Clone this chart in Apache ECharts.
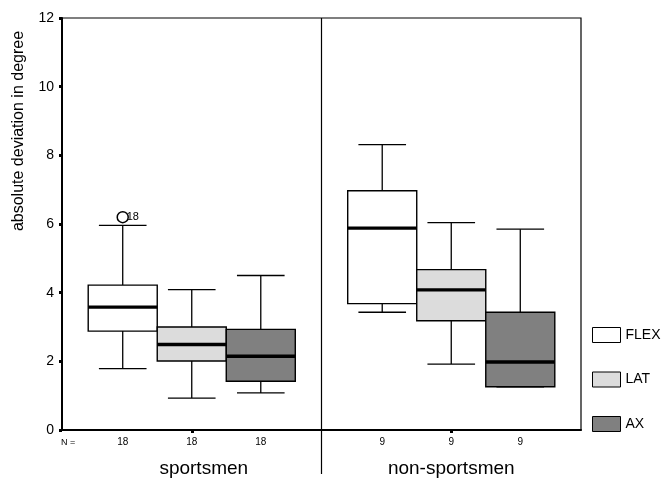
<!DOCTYPE html>
<html>
<head>
<meta charset="utf-8">
<script src="https://cdn.jsdelivr.net/npm/echarts@6/dist/echarts.min.js"></script>
<style>
html,body{margin:0;padding:0;background:#fff;}
#chart{width:665px;height:478px;}
</style>
</head>
<body>
<div id="chart"></div>
<script>
// ---- data ----
const categories = ['sportsmen', 'non-sportsmen'];
const measures = ['FLEX', 'LAT', 'AX'];
const measureColors = ['#ffffff', '#dcdcdc', '#808080'];
// each row: [lower whisker, Q1, median, Q3, upper whisker], one row per category
const flexStats = [[1.79, 2.88, 3.58, 4.22, 5.96], [3.43, 3.68, 5.88, 6.97, 8.31]];
const latStats  = [[0.93, 2.01, 2.49, 3.00, 4.09], [1.92, 3.18, 4.08, 4.67, 6.04]];
const axStats   = [[1.08, 1.42, 2.15, 2.93, 4.50], [1.26, 1.26, 1.98, 3.43, 5.85]];
const nCounts = [[18, 18, 18], [9, 9, 9]];
// outliers: [category index, measure index, value, case label]
const outliers = [[0, 0, 6.20, '18']];
const separators = [0]; // divider after category index 0
const yMin = 0, yMax = 12, yInterval = 2;
const yName = 'absolute deviation in degree';

const statsList = [flexStats, latStats, axStats];
const BOX_FRAC = 0.266;   // box width as fraction of band
const CAP_FRAC = 0.69;    // whisker cap width as fraction of box width
const FONT = '"Liberation Sans", Arial, sans-serif';

function boxCenter(api, cat, m) {
  const band = api.size([1, 0])[0];
  const bw = band * BOX_FRAC;
  return { cx: api.coord([cat, 0])[0] + (m - 1) * bw, bw: bw };
}

function renderBox(params, api) {
  const m = params.seriesIndex;
  const cat = api.value(0);
  const g = boxCenter(api, cat, m);
  const cx = g.cx, bw = g.bw, cw = bw * CAP_FRAC;
  const y = [1, 2, 3, 4, 5].map(i => api.coord([cat, api.value(i)])[1]);
  const line = (x1, y1, x2, y2, w) => ({
    type: 'line', shape: { x1, y1, x2, y2 },
    style: { stroke: '#000', lineWidth: w }
  });
  return {
    type: 'group',
    children: [
      line(cx, y[4], cx, y[3], 1.3),
      line(cx, y[1], cx, y[0], 1.3),
      line(cx - cw / 2, y[4], cx + cw / 2, y[4], 1.3),
      line(cx - cw / 2, y[0], cx + cw / 2, y[0], 1.3),
      {
        type: 'rect',
        shape: { x: cx - bw / 2, y: y[3], width: bw, height: y[1] - y[3] },
        style: { fill: measureColors[m], stroke: '#000', lineWidth: 1.4 }
      },
      line(cx - bw / 2, y[2], cx + bw / 2, y[2], 3.4)
    ]
  };
}

const boxSeries = measures.map((name, m) => ({
  name: name,
  type: 'custom',
  renderItem: renderBox,
  encode: { x: 0, y: [1, 2, 3, 4, 5] },
  itemStyle: { color: measureColors[m], borderColor: '#000' },
  data: statsList[m].map((s, c) => [c].concat(s)),
  z: 3
}));

const outlierSeries = {
  type: 'custom',
  name: 'outliers',
  encode: { x: 0, y: 2 },
  renderItem: function (params, api) {
    const cat = api.value(0), m = api.value(1);
    const g = boxCenter(api, cat, m);
    const py = api.coord([cat, api.value(2)])[1];
    return {
      type: 'group',
      children: [
        { type: 'circle', shape: { cx: g.cx, cy: py, r: 5.5 },
          style: { fill: '#fff', stroke: '#000', lineWidth: 1.5 }, z2: 2 },
        { type: 'text', x: g.cx + 4, y: py,
          style: { text: outliers[params.dataIndex][3], fill: '#000',
                   font: '11px ' + FONT, textAlign: 'left', textVerticalAlign: 'middle' }, z2: 1 }
      ]
    };
  },
  data: outliers.map(o => [o[0], o[1], o[2]]),
  z: 4
};

const nData = [];
nCounts.forEach((row, c) => row.forEach((n, m) => nData.push([c, m, n])));
const nSeries = {
  type: 'custom',
  name: 'N',
  encode: { x: 0 },
  renderItem: function (params, api) {
    const cat = api.value(0), m = api.value(1);
    const g = boxCenter(api, cat, m);
    const by = api.coord([cat, yMin])[1];
    return {
      type: 'text', x: g.cx, y: by + 12,
      style: { text: String(api.value(2)), fill: '#000', font: '10px ' + FONT,
               textAlign: 'center', textVerticalAlign: 'middle' }
    };
  },
  data: nData,
  z: 4
};

const sepSeries = {
  type: 'custom',
  name: 'sep',
  encode: { x: 0 },
  renderItem: function (params, api) {
    const cat = api.value(0);
    const band = api.size([1, 0])[0];
    const x = api.coord([cat, 0])[0] + band / 2;
    const yt = api.coord([cat, yMax])[1];
    const yb = api.coord([cat, yMin])[1];
    return { type: 'line', shape: { x1: x, y1: yt, x2: x, y2: yb + 44 },
             style: { stroke: '#000', lineWidth: 1.2 } };
  },
  data: separators.map(s => [s]),
  z: 2
};

const chart = echarts.init(document.getElementById('chart'), null, { renderer: 'canvas' });
chart.setOption({
  animation: false,
  backgroundColor: '#fff',
  textStyle: { fontFamily: FONT, color: '#000' },
  grid: { left: 62, right: 84, top: 18, bottom: 47, show: true,
          borderColor: '#000', borderWidth: 1.2, backgroundColor: 'transparent' },
  legend: {
    orient: 'vertical', left: 592, top: 327, padding: 0,
    itemWidth: 28, itemHeight: 15, itemGap: 28.5,
    textStyle: { fontSize: 14, color: '#000', fontFamily: FONT, lineHeight: 15, padding: [0, 0, 0, 0] },
    selectedMode: false,
    data: measures.map((name, m) => ({
      name: name, icon: 'rect',
      itemStyle: { color: measureColors[m], borderColor: '#000', borderWidth: 1 }
    }))
  },
  xAxis: {
    type: 'category',
    data: categories.map((c, i) => i === 0
      ? { value: c, textStyle: { padding: [0, 0, 0, 24] } }
      : c),
    axisLine: { show: true, lineStyle: { color: '#000', width: 2 } },
    axisTick: { show: true, alignWithLabel: true, length: 3, lineStyle: { color: '#000', width: 3 } },
    axisLabel: { color: '#000', fontSize: 19, margin: 29, fontFamily: FONT },
    splitLine: { show: false }
  },
  yAxis: {
    type: 'value', min: yMin, max: yMax, interval: yInterval,
    axisLine: { show: true, lineStyle: { color: '#000', width: 2 } },
    axisTick: { show: true, length: 3, lineStyle: { color: '#000', width: 3 } },
    axisLabel: { color: '#000', fontSize: 14, margin: 8, fontFamily: FONT },
    splitLine: { show: false }
  },
  graphic: [
    { type: 'text', x: 19, y: 131, rotation: Math.PI / 2,
      style: { text: yName, fill: '#000', font: '16px ' + FONT,
               textAlign: 'center', textVerticalAlign: 'middle' } },
    { type: 'text', x: 61, y: 443,
      style: { text: 'N =', fill: '#000', font: '9px ' + FONT,
               textAlign: 'left', textVerticalAlign: 'middle' } }
  ],
  series: boxSeries.concat([outlierSeries, nSeries, sepSeries])
});
</script>
</body>
</html>
